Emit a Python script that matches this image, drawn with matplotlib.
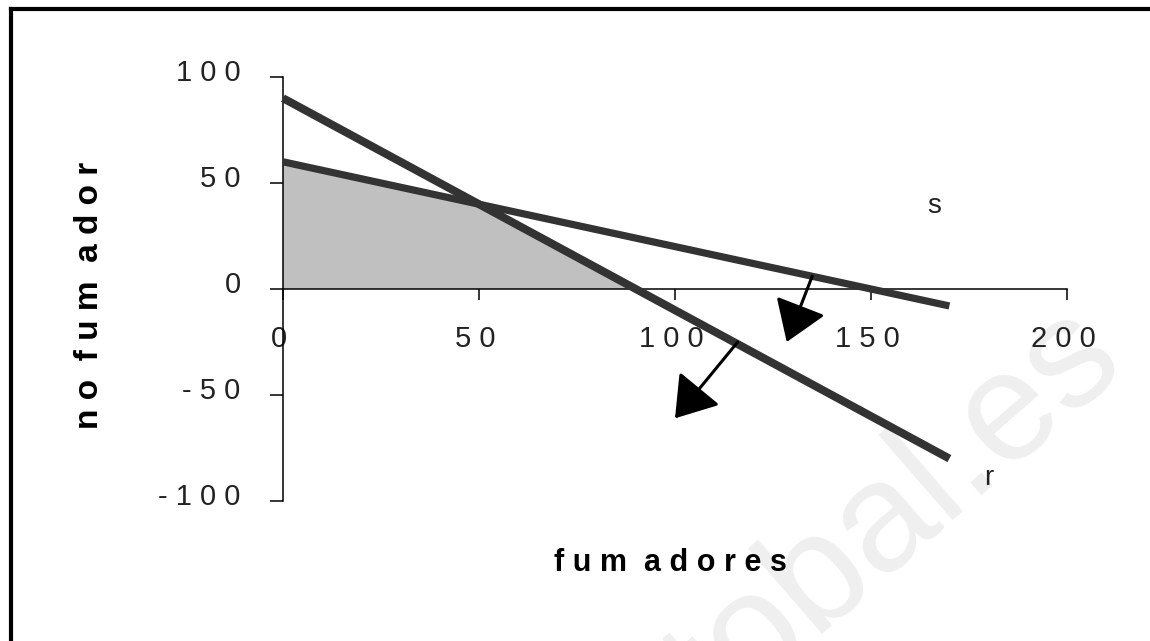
import matplotlib
matplotlib.use("Agg")
import matplotlib.pyplot as plt
from matplotlib.lines import Line2D
from matplotlib.transforms import ScaledTranslation

# constraint lines r and s
r_x = [0, 170]
r_y = [90, -80]
s_x = [0, 170]
s_y = [60, -8]
# feasible region (shaded)
feas_x = [0, 0, 50, 90]
feas_y = [0, 60, 40, 0]

x_ticks = [0, 50, 100, 150, 200]
y_ticks = [-100, -50, 0, 50, 100]

# arrows: (start on the line, tip)
arrows = [((135, 6), (128.5, -25)), ((116, -25), (100, -61))]

line_labels = [("s", 166, 39), ("r", 180, -89)]
x_label = "fum adores"
y_label = "no fum ador"

W, H = 1150, 641
FONT = "Liberation Sans"


def spaced(txt):
    return "  ".join(" ".join(w) for w in txt.split(" "))


fig = plt.figure(figsize=(W / 100, H / 100), dpi=100)
fig.patch.set_facecolor("white")

# faint watermark behind the chart
fig.text(1127 / W, 1 - 364 / H, "cristobal.es", rotation=41, rotation_mode="anchor",
         ha="right", va="baseline", fontsize=112, color="#efefef",
         family=FONT, zorder=-5)

ax = fig.add_axes([283 / W, 1 - 501 / H, 784 / W, 424 / H])
ax.patch.set_alpha(0)
ax.set_xlim(0, 200)
ax.set_ylim(-100, 100)

ax.fill(feas_x, feas_y, color="#c0c0c0", lw=0, zorder=1)
ax.plot(r_x, r_y, color="#333333", lw=5.8, solid_capstyle="butt", zorder=3, clip_on=False)
ax.plot(s_x, s_y, color="#333333", lw=5.2, solid_capstyle="butt", zorder=3, clip_on=False)

for (x0, y0), (x1, y1) in arrows:
    ax.annotate("", xy=(x1, y1), xytext=(x0, y0),
                arrowprops=dict(arrowstyle="-|>,head_length=0.45,head_width=0.3",
                                mutation_scale=55, lw=2.2, color="black",
                                shrinkA=0, shrinkB=0), zorder=4)

for txt, lx, ly in line_labels:
    ax.text(lx, ly, txt, ha="center", va="center", fontsize=20,
            family=FONT, color="#222222")

for side in ("top", "right"):
    ax.spines[side].set_visible(False)
for side in ("left", "bottom"):
    ax.spines[side].set_position(("data", 0))
    ax.spines[side].set_linewidth(1.1)
    ax.spines[side].set_zorder(2)

ax.set_xticks(x_ticks)
ax.set_xticklabels([spaced(str(v)) for v in x_ticks], family=FONT)
ax.set_yticks(y_ticks)
ax.set_yticklabels([spaced(str(v)) for v in y_ticks], family=FONT)
ax.tick_params(axis="x", direction="out", length=8, width=1.1, pad=18,
               labelsize=21, labelcolor="#222222")
ax.tick_params(axis="y", direction="out", length=9.5, width=1.1, pad=21,
               labelsize=21, labelcolor="#222222")
for lbl in ax.get_yticklabels():
    lbl.set_transform(lbl.get_transform() + ScaledTranslation(0, 7 / 100, fig.dpi_scale_trans))
for lbl in ax.get_xticklabels():
    lbl.set_transform(lbl.get_transform() + ScaledTranslation(-4 / 100, 0, fig.dpi_scale_trans))

fig.text(670 / W, 1 - 563 / H, spaced(x_label), ha="center", va="center",
         fontsize=22, fontweight="bold", family=FONT)
fig.text(90 / W, 1 - 295 / H, spaced(y_label), ha="center", va="center",
         rotation=90, fontsize=24, fontweight="bold", family=FONT)

# outer frame (only left and top edges fall inside the picture)
fig.add_artist(Line2D([10.5 / W, 10.5 / W], [0, 1 - 9 / H], color="black", lw=3,
                      solid_capstyle="projecting"))
fig.add_artist(Line2D([10.5 / W, 1], [1 - 9 / H, 1 - 9 / H], color="black", lw=3,
                      solid_capstyle="projecting"))

fig.savefig("out.png", dpi=100, facecolor="white")
